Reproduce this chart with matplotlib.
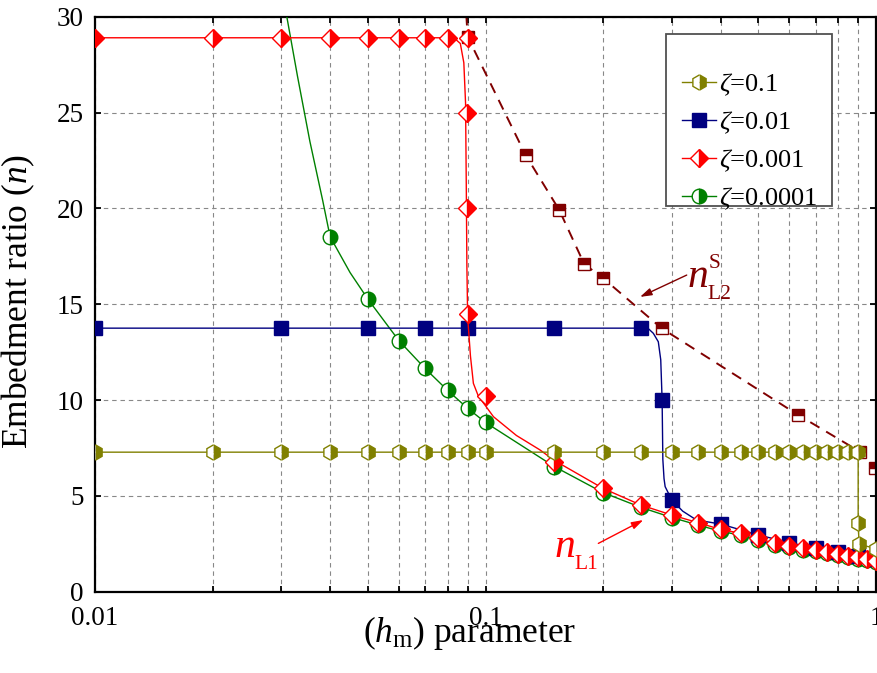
import matplotlib
matplotlib.use('Agg')
import matplotlib.pyplot as plt
from matplotlib.lines import Line2D
from matplotlib.patches import Rectangle
from matplotlib.ticker import LogLocator, NullFormatter

plt.rcParams['font.family'] = ['Liberation Serif', 'DejaVu Serif']
plt.rcParams['mathtext.fontset'] = 'custom'
plt.rcParams['mathtext.rm'] = 'Liberation Serif'
plt.rcParams['mathtext.it'] = 'Liberation Serif:italic'
plt.rcParams['mathtext.bf'] = 'Liberation Serif:bold'

# ---------------- data ----------------
# zeta = 0.1  (olive hexagons)
h_z1 = [0.01, 0.02, 0.03, 0.04, 0.05, 0.06, 0.07, 0.08, 0.09, 0.1, 0.15, 0.2, 0.25,
        0.3, 0.35, 0.4, 0.45, 0.5, 0.55, 0.6, 0.65, 0.7, 0.75, 0.8, 0.85, 0.9,
        0.9, 0.905, 1.0]
n_z1 = [7.28, 7.28, 7.28, 7.28, 7.28, 7.28, 7.28, 7.28, 7.28, 7.28, 7.28, 7.28, 7.28,
        7.28, 7.28, 7.28, 7.28, 7.28, 7.28, 7.28, 7.28, 7.28, 7.28, 7.28, 7.28, 7.28,
        3.6, 2.47, 2.25]

# zeta = 0.01  (navy squares)
h_z2_mk = [0.01, 0.03, 0.05, 0.07, 0.09, 0.15, 0.25, 0.283, 0.3, 0.4, 0.5, 0.6, 0.7, 0.8, 0.9, 1.0]
n_z2_mk = [13.75, 13.75, 13.75, 13.75, 13.75, 13.75, 13.75, 10.0, 4.78, 3.53, 2.96, 2.56, 2.26, 2.09, 1.85, 1.7]
h_z2_ln = [0.01, 0.25, 0.262, 0.269, 0.277, 0.281, 0.2833, 0.2845, 0.2865, 0.2884, 0.3, 0.32, 0.347,
           0.4, 0.5, 0.6, 0.7, 0.8, 0.9, 1.0]
n_z2_ln = [13.75, 13.75, 13.7, 13.48, 13.04, 12.1, 10.0, 6.9, 5.9, 5.48, 4.78, 4.2, 3.74,
           3.53, 2.96, 2.56, 2.26, 2.09, 1.85, 1.7]

# zeta = 0.001  (red diamonds)
h_z3_mk = [0.01, 0.02, 0.03, 0.04, 0.05, 0.06, 0.07, 0.08, 0.09, 0.0895, 0.0895, 0.09, 0.1,
           0.15, 0.2, 0.25, 0.3, 0.35, 0.4, 0.45, 0.5, 0.55, 0.6, 0.65, 0.7, 0.75, 0.8, 0.85,
           0.9, 0.95, 1.0]
n_z3_mk = [28.9, 28.9, 28.9, 28.9, 28.9, 28.9, 28.9, 28.9, 28.9, 25.0, 20.0, 14.5, 10.22,
           6.78, 5.39, 4.52, 4.0, 3.6, 3.25, 3.05, 2.78, 2.52, 2.4, 2.26, 2.17, 2.09, 1.97, 1.86,
           1.79, 1.72, 1.62]
h_z3_ln = [0.01, 0.083, 0.0862, 0.088, 0.0889, 0.0893, 0.0896, 0.0900, 0.0915, 0.0931, 0.0958,
           0.1048, 0.1200, 0.1378, 0.15, 0.2, 0.25, 0.3, 0.35, 0.4, 0.45, 0.5, 0.55, 0.6, 0.65,
           0.7, 0.75, 0.8, 0.85, 0.9, 0.95, 1.0]
n_z3_ln = [28.9, 28.9, 28.6, 27.6, 25.5, 21.0, 17.0, 14.35, 12.3, 10.87, 10.22,
           9.13, 8.15, 7.4, 6.85, 5.39, 4.52, 4.0, 3.6, 3.25, 3.05, 2.78, 2.52, 2.4, 2.26,
           2.17, 2.09, 1.97, 1.86, 1.79, 1.72, 1.62]

# zeta = 0.0001  (green circles)
h_z4_mk = [0.04, 0.05, 0.06, 0.07, 0.08, 0.09, 0.1, 0.15, 0.2, 0.25, 0.3, 0.35, 0.4, 0.45,
           0.5, 0.55, 0.6, 0.65, 0.7, 0.75, 0.8, 0.85, 0.9, 0.95, 1.0]
n_z4_mk = [18.52, 15.26, 13.1, 11.65, 10.5, 9.57, 8.83, 6.53, 5.17, 4.4, 3.87, 3.48, 3.15, 2.95,
           2.7, 2.45, 2.32, 2.2, 2.1, 2.02, 1.9, 1.8, 1.73, 1.65, 1.57]
h_z4_ln = [0.0308, 0.033, 0.0355, 0.0383, 0.04, 0.045, 0.05, 0.06, 0.07, 0.08, 0.09, 0.1, 0.15,
           0.2, 0.25, 0.3, 0.35, 0.4, 0.45, 0.5, 0.55, 0.6, 0.65, 0.7, 0.75, 0.8, 0.85, 0.9,
           0.95, 1.0]
n_z4_ln = [30.3, 26.9, 23.5, 20.4, 18.52, 16.65, 15.26, 13.1, 11.65, 10.5, 9.57, 8.83, 6.53,
           5.17, 4.4, 3.87, 3.48, 3.15, 2.95, 2.7, 2.45, 2.32, 2.2, 2.1, 2.02, 1.9, 1.8, 1.73,
           1.65, 1.57]

# n_L2^S  (dark red dashed, half-filled squares)
h_L2_ln = [0.0893, 0.09, 0.1267, 0.1545, 0.179, 0.2002, 0.2826, 0.632, 0.91, 0.995]
n_L2_ln = [30.1, 28.95, 22.78, 19.91, 17.09, 16.35, 13.74, 9.22, 7.3, 6.44]
h_L2_mk = [0.09, 0.1267, 0.1545, 0.179, 0.2002, 0.2826, 0.632, 0.91, 0.995]
n_L2_mk = [28.95, 22.78, 19.91, 17.09, 16.35, 13.74, 9.22, 7.3, 6.44]

x_ticks = [0.01, 0.1, 1]
x_ticklabels = ['0.01', '0.1', '1']
y_ticks = [0, 5, 10, 15, 20, 25, 30]
legend_labels = [r'$\zeta$=0.1', r'$\zeta$=0.01', r'$\zeta$=0.001', r'$\zeta$=0.0001']

# ---------------- styling ----------------
OLIVE = '#808000'
NAVY = '#000080'
RED = '#ff0000'
GREEN = '#008000'
DRED = '#800000'

W, H = 877, 673
fig = plt.figure(figsize=(W / 100, H / 100), dpi=100)
ax = fig.add_axes([0.1083, 0.1208, 0.8906, 0.8544])
ax.set_xscale('log')

# dark red n_L2^S
ax.plot(h_L2_ln, n_L2_ln, color=DRED, lw=1.4, ls=(0, (5.5, 4)), zorder=2)
ax.plot(h_L2_mk, n_L2_mk, ls='none', marker='s', ms=9, fillstyle='top', mfc=DRED,
        markerfacecoloralt='white', mec=DRED, mew=1.0, zorder=2.1)

# green
ax.plot(h_z4_ln, n_z4_ln, color=GREEN, lw=1.0, zorder=3)
ax.plot(h_z4_mk, n_z4_mk, ls='none', marker='o', ms=10.5, fillstyle='right', mfc=GREEN,
        markerfacecoloralt='white', mec=GREEN, mew=1.0, zorder=3.1)

# navy
ax.plot(h_z2_ln, n_z2_ln, color=NAVY, lw=1.0, zorder=4)
ax.plot(h_z2_mk, n_z2_mk, ls='none', marker='s', ms=9.4, mfc=NAVY, mec=NAVY, mew=1.0, zorder=4.1)

# red
ax.plot(h_z3_ln, n_z3_ln, color=RED, lw=1.0, zorder=5)
ax.plot(h_z3_mk, n_z3_mk, ls='none', marker='D', ms=9, fillstyle='right', mfc=RED,
        markerfacecoloralt='white', mec=RED, mew=1.0, zorder=5.1)

# olive
ax.plot(h_z1, n_z1, color=OLIVE, lw=1.0, marker='h', ms=11, fillstyle='right', mfc=OLIVE,
        markerfacecoloralt='white', mec=OLIVE, mew=1.0, zorder=6)

ax.set_xlim(0.01, 1)
ax.set_ylim(0, 30)
ax.set_xticks(x_ticks)
ax.set_xticklabels(x_ticklabels)
ax.xaxis.set_minor_locator(LogLocator(base=10, subs=range(2, 10)))
ax.xaxis.set_minor_formatter(NullFormatter())
ax.set_yticks(y_ticks)
ax.tick_params(which='both', direction='in', top=True, right=True, length=4.5, width=1.3,
               labelsize=19.5, color='black')
ax.tick_params(axis='y', pad=8)
ax.tick_params(axis='x', pad=10)
for sp in ax.spines.values():
    sp.set_linewidth(1.6)

ax.set_axisbelow(True)
ax.grid(which='major', axis='both', color='#888888', ls=(0, (4, 3.5)), lw=0.8)
ax.grid(which='minor', axis='x', color='#888888', ls=(0, (4, 3.5)), lw=0.8)

ax.set_ylabel('Embedment ratio ($n$)', fontsize=25.5)
ax.yaxis.set_label_coords(-0.074, 0.505)
ax.set_xlabel('($h_{\\mathrm{m}}$) parameter', fontsize=25.5)
ax.xaxis.set_label_coords(0.48, -0.038)

# legend frame (drawn as a figure patch) + frameless figure legend on top
frame = Rectangle((666 / W, 1 - 206 / H), (832 - 666) / W, (206 - 34) / H,
                  transform=fig.transFigure, facecolor='white', edgecolor='#505050',
                  lw=1.3, zorder=4)
fig.add_artist(frame)
handles = [
    Line2D([], [], color=OLIVE, lw=1.0, marker='h', ms=11, fillstyle='right', mfc=OLIVE,
           markerfacecoloralt='white', mec=OLIVE, mew=1.0),
    Line2D([], [], color=NAVY, lw=1.0, marker='s', ms=9.4, mfc=NAVY, mec=NAVY),
    Line2D([], [], color=RED, lw=1.0, marker='D', ms=9, fillstyle='right', mfc=RED,
           markerfacecoloralt='white', mec=RED, mew=1.0),
    Line2D([], [], color=GREEN, lw=1.0, marker='o', ms=10.5, fillstyle='right', mfc=GREEN,
           markerfacecoloralt='white', mec=GREEN, mew=1.0),
]
leg = fig.legend(handles, legend_labels, loc='upper left',
                 bbox_to_anchor=(682 / W, 1 - 72 / H), bbox_transform=fig.transFigure,
                 frameon=False, fontsize=19, handlelength=1.3, handletextpad=0.12,
                 labelspacing=0.43, borderpad=0, borderaxespad=0, numpoints=1)
leg.set_zorder(6)

# annotations
ax.annotate('', xy=(0.2487, 15.38), xytext=(0.3275, 16.52),
            arrowprops=dict(arrowstyle='-|>,head_length=0.7,head_width=0.22', color=DRED,
                            lw=1.0, shrinkA=0, shrinkB=0), zorder=7)
ax.text(0.328, 15.9, '$n$', color=DRED, fontsize=30, va='baseline', ha='left', zorder=7)
ax.annotate('L2', xy=(0.328, 15.9), xytext=(15, -8.5), textcoords='offset points',
            color=DRED, fontsize=15.5, va='baseline', ha='left', zorder=7)
ax.annotate('S', xy=(0.328, 15.9), xytext=(15.5, 13.5), textcoords='offset points',
            color=DRED, fontsize=15.5, va='baseline', ha='left', zorder=7)

ax.annotate('', xy=(0.2535, 3.74), xytext=(0.1945, 2.52),
            arrowprops=dict(arrowstyle='-|>,head_length=0.7,head_width=0.22', color=RED,
                            lw=1.0, shrinkA=0, shrinkB=0), zorder=7)
ax.text(0.1495, 1.81, '$n$', color=RED, fontsize=30, va='baseline', ha='left', zorder=7)
ax.annotate('L1', xy=(0.1495, 1.81), xytext=(15, -8.5), textcoords='offset points',
            color=RED, fontsize=15.5, va='baseline', ha='left', zorder=7)

fig.savefig('out.png', dpi=100)
